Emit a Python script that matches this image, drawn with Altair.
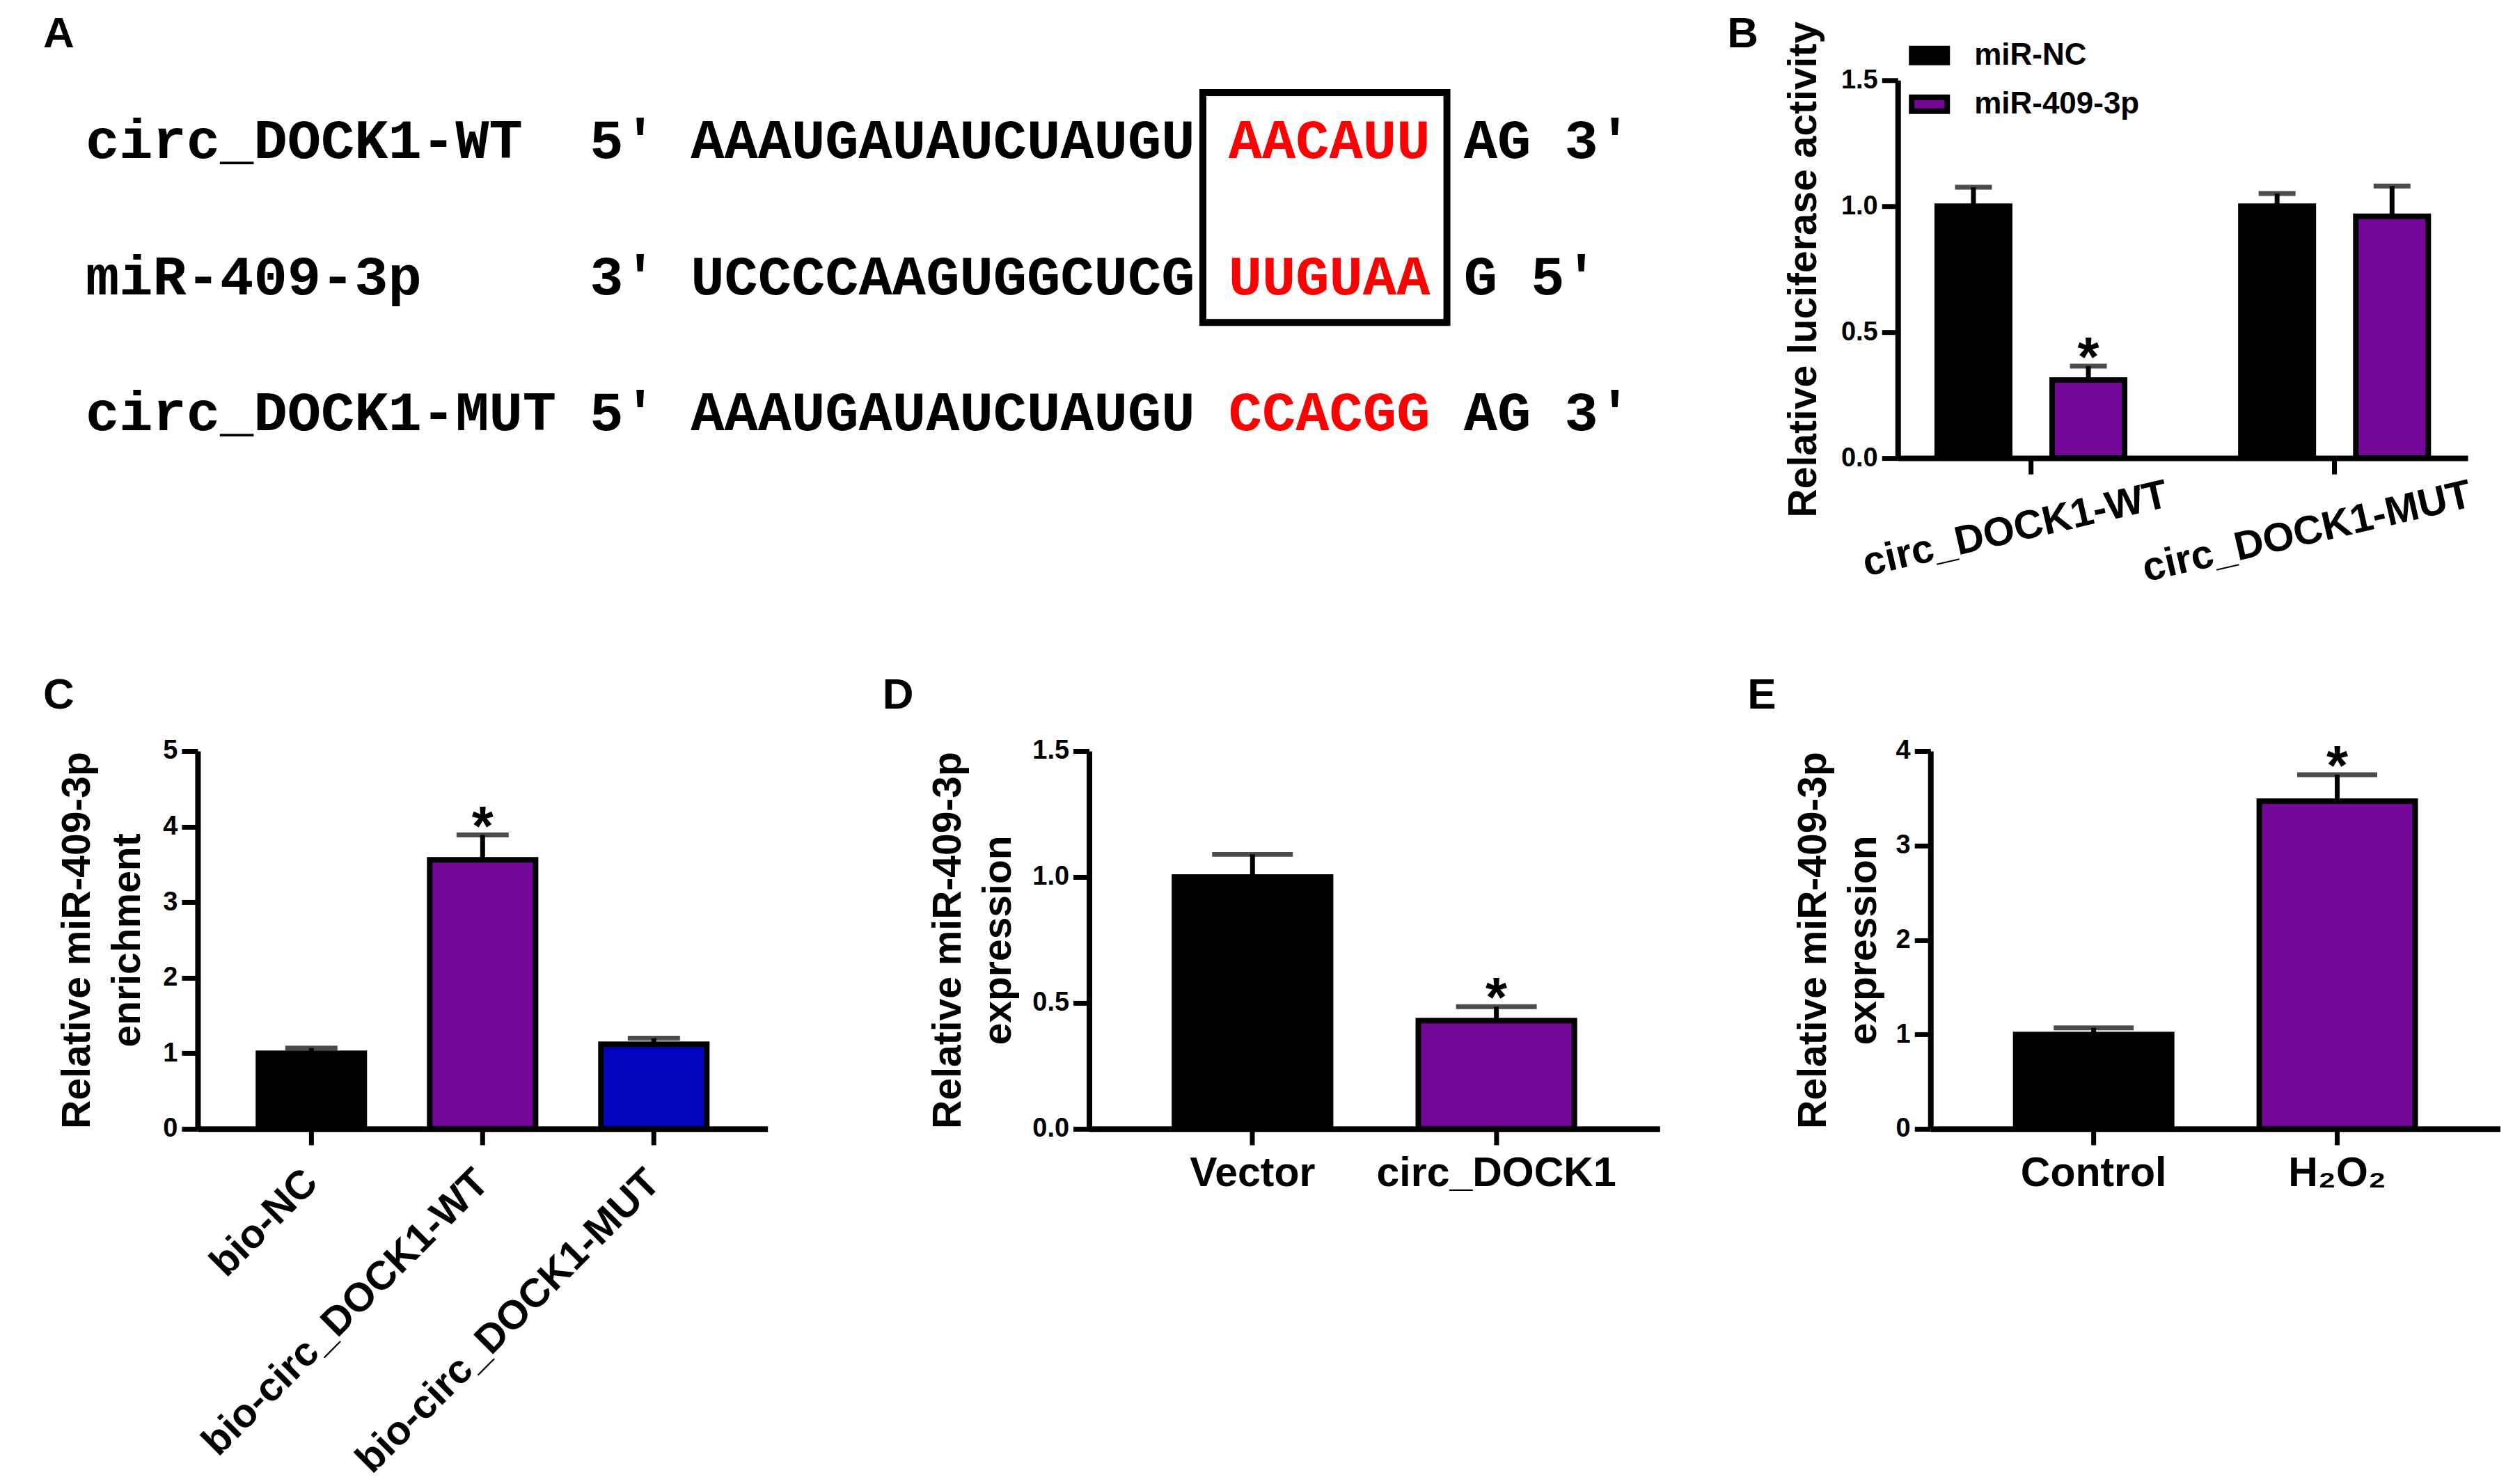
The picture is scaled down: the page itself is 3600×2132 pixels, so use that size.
import altair as alt
import pandas as pd

# ---------------- data ----------------
# Panel A: sequence alignment
seq_names = ["circ_DOCK1-WT", "miR-409-3p", "circ_DOCK1-MUT"]
seq_ends = ["5'", "3'", "5'"]
seq_body = ["AAAUGAUAUCUAUGU", "UCCCCAAGUGGCUCG", "AAAUGAUAUCUAUGU"]
seq_site = ["AACAUU", "UUGUAA", "CCACGG"]
seq_tail = ["AG 3'", "G 5'", "AG 3'"]
boxed_rows = [0, 1]

# Panel B: luciferase activity
b_groups = ["circ_DOCK1-WT", "circ_DOCK1-MUT"]
b_series = ["miR-NC", "miR-409-3p"]
b_mean_nc = [1.00, 1.00]
b_err_nc = [0.075, 0.05]
b_mean_mir = [0.31, 0.96]
b_err_mir = [0.055, 0.12]
b_sig_mir = [True, False]
b_ticks = [0, 0.5, 1.0, 1.5]

# Panel C: RNA pull-down
c_groups = ["bio-NC", "bio-circ_DOCK1-WT", "bio-circ_DOCK1-MUT"]
c_mean = [1.00, 3.56, 1.12]
c_err = [0.07, 0.33, 0.08]
c_sig = [False, True, False]
c_ticks = [0, 1, 2, 3, 4, 5]

# Panel D
d_groups = ["Vector", "circ_DOCK1"]
d_mean = [1.00, 0.43]
d_err = [0.09, 0.055]
d_sig = [False, True]
d_ticks = [0, 0.5, 1.0, 1.5]

# Panel E
e_groups = ["Control", "H\u2082O\u2082"]
e_mean = [1.00, 3.47]
e_err = [0.07, 0.28]
e_sig = [False, True]
e_ticks = [0, 1, 2, 3, 4]

# ---------------- styles ----------------
FONT = "Liberation Sans, Arial, sans-serif"
MONO = "Liberation Mono, Courier New, monospace"
BLACK = "#000000"
PURPLE = "#74079A"
BLUE = "#0404BF"
RED = "#FF0000"

PANEL_H = 543
LETTER_SIZE = 62
STAR_SIZE = 80
STAR_DY = 14
LETTER_DX = -222


def letter(text, dx, dy):
    return alt.TitleParams(text=text, anchor="start", frame="group", offset=0,
                           dx=dx, dy=dy, fontSize=LETTER_SIZE, font=FONT,
                           fontWeight="bold", baseline="alphabetic", color=BLACK)


# ---------------- panel A ----------------
MONO_SIZE = 80.5
CW = 0.6 * MONO_SIZE
A_W = 2022
A_INSET = 161          # text starts this far left of the panel frame
ROW_STEP = 195.5
ROW0 = 88

col_end = max(len(s) for s in seq_names) + 1
col_body = col_end + 3
col_site = col_body + max(len(s) for s in seq_body) + 1
col_tail = col_site + max(len(s) for s in seq_site) + 1

pieces = []
for i in range(len(seq_names)):
    pieces += [
        dict(row=i, col=0, txt=seq_names[i], kind="seq"),
        dict(row=i, col=col_end, txt=seq_ends[i], kind="seq"),
        dict(row=i, col=col_body, txt=seq_body[i], kind="seq"),
        dict(row=i, col=col_site, txt=seq_site[i], kind="site"),
        dict(row=i, col=col_tail, txt=seq_tail[i], kind="seq"),
    ]
dfA = pd.DataFrame(pieces)
site_len = max(len(s) for s in seq_site)
dfBox = pd.DataFrame([dict(x1=col_site - 0.76, x2=col_site + site_len + 0.5,
                           y1=min(boxed_rows) - 0.36, y2=max(boxed_rows) + 0.33)])

ax0 = A_INSET / CW
ax1 = ax0 + A_W / CW
ay0 = -ROW0 / ROW_STEP
ay1 = ay0 + PANEL_H / ROW_STEP
axs = alt.Scale(domain=[ax0, ax1], nice=False, zero=False)
ays = alt.Scale(domain=[ay0, ay1], nice=False, zero=False, reverse=True)

a_text = alt.Chart(dfA).mark_text(font=MONO, fontSize=MONO_SIZE, fontWeight="bold",
                                  align="left", baseline="middle").encode(
    x=alt.X("col:Q", scale=axs, axis=None),
    y=alt.Y("row:Q", scale=ays, axis=None),
    text="txt:N",
    color=alt.Color("kind:N", scale=alt.Scale(domain=["seq", "site"], range=[BLACK, RED]), legend=None),
)
a_box = alt.Chart(dfBox).mark_rect(fill="transparent", stroke=BLACK, strokeWidth=10).encode(
    x=alt.X("x1:Q", scale=axs, axis=None), x2="x2:Q",
    y=alt.Y("y1:Q", scale=ays, axis=None), y2="y2:Q",
)
pA = alt.layer(a_box, a_text).properties(width=A_W, height=PANEL_H,
                                         title=letter("A", LETTER_DX, 15))

# ---------------- panel B ----------------
rowsB = []
for gi, g in enumerate(b_groups):
    rowsB.append(dict(g=g, s=b_series[0], m=b_mean_nc[gi], top=b_mean_nc[gi] + b_err_nc[gi], sig=False))
    rowsB.append(dict(g=g, s=b_series[1], m=b_mean_mir[gi], top=b_mean_mir[gi] + b_err_mir[gi], sig=b_sig_mir[gi]))
dfB = pd.DataFrame(rowsB)

bx = alt.X("g:N", sort=b_groups, scale=alt.Scale(paddingInner=0.383, paddingOuter=0.13),
           axis=alt.Axis(title=None, labelAngle=347, labelAlign="right", labelBaseline="middle",
                         labelPadding=29, labelOffset=196, labelFontSize=58))
bxo = alt.XOffset("s:N", sort=b_series, scale=alt.Scale(paddingInner=0.37, paddingOuter=0))
bys = alt.Scale(domain=[0, 1.5], nice=False)
bya = alt.Axis(values=b_ticks, format=".1f", title="Relative luciferase activity", titlePadding=24)
baseB = alt.Chart(dfB)
b_bars = baseB.mark_bar(stroke=BLACK, strokeWidth=8).encode(
    x=bx, xOffset=bxo, y=alt.Y("m:Q", scale=bys, axis=bya),
    color=alt.Color("s:N", sort=b_series, scale=alt.Scale(domain=b_series, range=[BLACK, PURPLE]),
                    legend=alt.Legend(title=None, orient="none", legendX=16, legendY=-65,
                                      symbolType="M-1,-0.392H1V0.392H-1Z", symbolSize=2601,
                                      symbolStrokeColor=BLACK, symbolStrokeWidth=8,
                                      labelFont=FONT, labelFontSize=44, labelFontWeight="bold",
                                      labelColor=BLACK, labelOffset=35, rowPadding=14,
                                      padding=0, labelLimit=1000)),
)
b_err = baseB.mark_rule(color=BLACK, strokeWidth=7).encode(
    x=bx, xOffset=bxo, y=alt.Y("m:Q", scale=bys, axis=bya), y2="top:Q")
b_cap = baseB.mark_tick(color=BLACK, thickness=7, size=53).encode(
    x=bx, xOffset=bxo, y=alt.Y("top:Q", scale=bys, axis=bya))
b_star = baseB.transform_filter("datum.sig").mark_text(
    text="*", font=FONT, fontSize=STAR_SIZE, fontWeight="bold", baseline="alphabetic", dy=STAR_DY,
    color=BLACK).encode(x=bx, xOffset=bxo, y=alt.Y("top:Q", scale=bys, axis=bya))
pB = alt.layer(b_bars, b_err, b_cap, b_star).properties(
    width=819, height=PANEL_H, title=letter("B", -245, 100))


# ---------------- panels C, D, E ----------------
def bar_panel(groups, means, errs, sigs, colors, ticks, fmt, ymax, title_lines, width,
              p_inner, p_outer, cap, x_axis, title_pad, title):
    df = pd.DataFrame({"g": groups, "m": means,
                       "top": [m + e for m, e in zip(means, errs)], "sig": sigs})
    xenc = alt.X("g:N", sort=groups, scale=alt.Scale(paddingInner=p_inner, paddingOuter=p_outer),
                 axis=x_axis)
    ya = alt.Axis(values=ticks, format=fmt, title=title_lines, titlePadding=title_pad,
                  titleLineHeight=72)
    ys = alt.Scale(domain=[0, ymax], nice=False)
    base = alt.Chart(df)
    bars = base.mark_bar(stroke=BLACK, strokeWidth=8).encode(
        x=xenc, y=alt.Y("m:Q", scale=ys, axis=ya),
        fill=alt.Fill("g:N", sort=groups, scale=alt.Scale(domain=groups, range=colors), legend=None))
    err = base.mark_rule(color=BLACK, strokeWidth=7).encode(
        x=xenc, y=alt.Y("m:Q", scale=ys, axis=ya), y2="top:Q")
    capm = base.mark_tick(color=BLACK, thickness=7, size=cap).encode(
        x=xenc, y=alt.Y("top:Q", scale=ys, axis=ya))
    star = base.transform_filter("datum.sig").mark_text(
        text="*", font=FONT, fontSize=STAR_SIZE, fontWeight="bold", baseline="alphabetic",
        dy=STAR_DY, color=BLACK).encode(x=xenc, y=alt.Y("top:Q", scale=ys, axis=ya))
    return alt.layer(bars, err, capm, star).properties(width=width, height=PANEL_H, title=title)


pC = bar_panel(c_groups, c_mean, c_err, c_sig, [BLACK, PURPLE, BLUE], c_ticks, "d", 5,
               ["Relative miR-409-3p", "enrichment"], 819, 0.382, 0.355, 75,
               alt.Axis(title=None, labelAngle=315, labelAlign="right", labelBaseline="middle",
                        labelPadding=45, labelFontSize=58),
               21, letter("C", LETTER_DX, 20))
pD = bar_panel(d_groups, d_mean, d_err, d_sig, [BLACK, PURPLE], d_ticks, ".1f", 1.5,
               ["Relative miR-409-3p", "expression"], 820, 0.36, 0.35, 116,
               alt.Axis(title=None, labelAngle=0, labelPadding=12, labelFontSize=59),
               19, letter("D", -297, 20))
pE = bar_panel(e_groups, e_mean, e_err, e_sig, [BLACK, PURPLE], e_ticks, "d", 4,
               ["Relative miR-409-3p", "expression"], 819, 0.36, 0.35, 115,
               alt.Axis(title=None, labelAngle=0, labelPadding=12, labelFontSize=59),
               17, letter("E", -263, 20))

top = alt.hconcat(pA, pB, spacing=421, bounds="flush").resolve_scale(color="independent")
de = alt.hconcat(pD, pE, spacing=389, bounds="flush").resolve_scale(fill="independent")
bottom = alt.hconcat(pC, de, spacing=462, bounds="flush").resolve_scale(fill="independent")

chart = alt.vconcat(top, bottom, spacing=120, bounds="full").resolve_scale(
    color="independent", fill="independent"
).properties(
    padding={"left": 54, "top": 10, "right": 0, "bottom": 0}
).configure_view(strokeWidth=0).configure_axis(
    domainColor=BLACK, domainWidth=8, tickColor=BLACK, tickWidth=7, tickSize=23,
    labelColor=BLACK, labelFont=FONT, labelFontSize=38, labelFontWeight="bold", labelPadding=6,
    labelLimit=2000, labelOverlap=False, titleColor=BLACK, titleFont=FONT, titleFontSize=57,
    titleFontWeight="bold", grid=False,
)

chart.save("out.html", embed_options={"renderer": "svg", "actions": False})
